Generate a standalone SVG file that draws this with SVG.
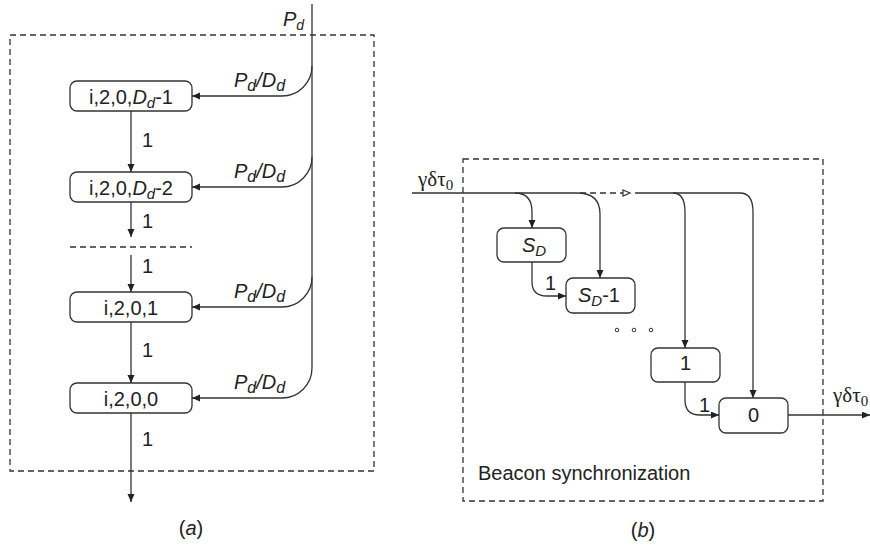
<svg xmlns="http://www.w3.org/2000/svg" width="870" height="545" viewBox="0 0 870 545">
<style>
.ln{fill:none;stroke:#333;stroke-width:1.3}
.dash{fill:none;stroke:#333;stroke-width:1.3;stroke-dasharray:6,4}
.box{fill:#fff;stroke:#333;stroke-width:1.3}
.t{font-family:"Liberation Sans",Arial,sans-serif;font-size:20px;fill:#222}
.it{font-style:italic}
.g{font-family:"Liberation Serif","Times New Roman",serif;font-size:21px;fill:#222}
</style>
<defs>
<marker id="arr" markerUnits="userSpaceOnUse" markerWidth="9" markerHeight="8" refX="8" refY="3.5" orient="auto">
<path d="M0,0 L8,3.5 L0,7 z" fill="#222"/>
</marker>
<marker id="open" markerUnits="userSpaceOnUse" markerWidth="10" markerHeight="9" refX="8" refY="4" orient="auto">
<path d="M1,1 L8,4 L1,7 z" fill="#fff" stroke="#333" stroke-width="1.2"/>
</marker>
</defs>

<!-- Panel (a) frame -->
<rect class="dash" x="10" y="35" width="364" height="436"/>
<line class="dash" x1="70" y1="247" x2="192" y2="247"/>

<g id="connectors">
<!-- panel a -->
<path class="ln" d="M312,4 L312,368 A30,30 0 0 1 282,398 L192,398" marker-end="url(#arr)"/>
<path class="ln" d="M312,66 A30,30 0 0 1 282,96 L192,96" marker-end="url(#arr)"/>
<path class="ln" d="M312,157 A30,30 0 0 1 282,187 L192,187" marker-end="url(#arr)"/>
<path class="ln" d="M312,277 A30,30 0 0 1 282,307 L192,307" marker-end="url(#arr)"/>
<line class="ln" x1="131" y1="111" x2="131" y2="172" marker-end="url(#arr)"/>
<line class="ln" x1="131" y1="202" x2="131" y2="237" marker-end="url(#arr)"/>
<line class="ln" x1="131" y1="255" x2="131" y2="292" marker-end="url(#arr)"/>
<line class="ln" x1="131" y1="322" x2="131" y2="383" marker-end="url(#arr)"/>
<line class="ln" x1="131" y1="413" x2="131" y2="502" marker-end="url(#arr)"/>
<!-- panel b -->
<path class="ln" d="M412,193 L577,193 Q600,193 600,214 L600,278" marker-end="url(#arr)"/>
<path class="ln" d="M515,193 Q532,193 532,212 L532,228" marker-end="url(#arr)"/>
<path class="dash" d="M580,193 L630,193" marker-end="url(#open)"/>
<path class="ln" d="M635,193 L740,193 Q753,193 753,212 L753,398" marker-end="url(#arr)"/>
<path class="ln" d="M673,193 Q685,193 685,212 L685,348" marker-end="url(#arr)"/>
<path class="ln" d="M532,262 L532,282 Q532,296 547,296 L566,296" marker-end="url(#arr)"/>
<path class="ln" d="M685,382 L685,400 Q685,415 700,415 L719,415" marker-end="url(#arr)"/>
<line class="ln" x1="788" y1="415" x2="870" y2="415" marker-end="url(#arr)"/>
</g>

<!-- Panel (a) labels -->
<text class="t it" x="283" y="26">P<tspan font-size="14" dy="4">d</tspan></text>
<text class="t it" x="234" y="87" font-size="22">P<tspan font-size="16" dy="4">d</tspan><tspan dy="-4">/D</tspan><tspan font-size="16" dy="4">d</tspan></text>
<text class="t it" x="234" y="178" font-size="22">P<tspan font-size="16" dy="4">d</tspan><tspan dy="-4">/D</tspan><tspan font-size="16" dy="4">d</tspan></text>
<text class="t it" x="234" y="298" font-size="22">P<tspan font-size="16" dy="4">d</tspan><tspan dy="-4">/D</tspan><tspan font-size="16" dy="4">d</tspan></text>
<text class="t it" x="234" y="389" font-size="22">P<tspan font-size="16" dy="4">d</tspan><tspan dy="-4">/D</tspan><tspan font-size="16" dy="4">d</tspan></text>
<text class="t" x="142" y="147">1</text>
<text class="t" x="142" y="228">1</text>
<text class="t" x="142" y="273">1</text>
<text class="t" x="142" y="357">1</text>
<text class="t" x="142" y="446">1</text>
<text class="t" x="191" y="535" text-anchor="middle">(<tspan class="it">a</tspan>)</text>

<g id="node-a1">
<rect class="box" x="70" y="81" width="122" height="30" rx="7"/>
<text class="t" x="131" y="104" text-anchor="middle">i,2,0,<tspan class="it">D</tspan><tspan class="it" font-size="15" dy="4">d</tspan><tspan dy="-4">-1</tspan></text>
</g>
<g id="node-a2">
<rect class="box" x="70" y="172" width="122" height="30" rx="7"/>
<text class="t" x="131" y="195" text-anchor="middle">i,2,0,<tspan class="it">D</tspan><tspan class="it" font-size="15" dy="4">d</tspan><tspan dy="-4">-2</tspan></text>
</g>
<g id="node-a3">
<rect class="box" x="70" y="292" width="122" height="30" rx="7"/>
<text class="t" x="131" y="315" text-anchor="middle">i,2,0,1</text>
</g>
<g id="node-a4">
<rect class="box" x="70" y="383" width="122" height="30" rx="7"/>
<text class="t" x="131" y="406" text-anchor="middle">i,2,0,0</text>
</g>

<!-- Panel (b) -->
<rect class="dash" x="463" y="159" width="360" height="342"/>
<text class="g" x="418" y="186">γδτ<tspan font-size="15" dy="4">0</tspan></text>
<text class="g" x="833" y="402">γδτ<tspan font-size="15" dy="4">0</tspan></text>
<text class="t" x="545" y="290">1</text>
<text class="t" x="699" y="412">1</text>
<circle cx="617" cy="330" r="1.8" fill="none" stroke="#333" stroke-width="1"/>
<circle cx="634" cy="330" r="1.8" fill="none" stroke="#333" stroke-width="1"/>
<circle cx="651" cy="330" r="1.8" fill="none" stroke="#333" stroke-width="1"/>
<text class="t" x="478" y="480" font-size="21">Beacon synchronization</text>
<text class="t" x="643" y="537" text-anchor="middle">(<tspan class="it">b</tspan>)</text>

<g id="node-b-sd">
<rect class="box" x="497" y="228" width="69" height="34" rx="7"/>
<text class="t it" x="534" y="252" text-anchor="middle">S<tspan font-size="15" dy="4">D</tspan></text>
</g>
<g id="node-b-sd1">
<rect class="box" x="566" y="278" width="69" height="35" rx="7"/>
<text class="t" x="599" y="302" text-anchor="middle"><tspan class="it">S</tspan><tspan class="it" font-size="15" dy="4">D</tspan><tspan dy="-4">-1</tspan></text>
</g>
<g id="node-b-1">
<rect class="box" x="651" y="348" width="69" height="34" rx="7"/>
<text class="t" x="685.5" y="370" text-anchor="middle">1</text>
</g>
<g id="node-b-0">
<rect class="box" x="719" y="398" width="69" height="35" rx="7"/>
<text class="t" x="753.5" y="422" text-anchor="middle">0</text>
</g>
</svg>
